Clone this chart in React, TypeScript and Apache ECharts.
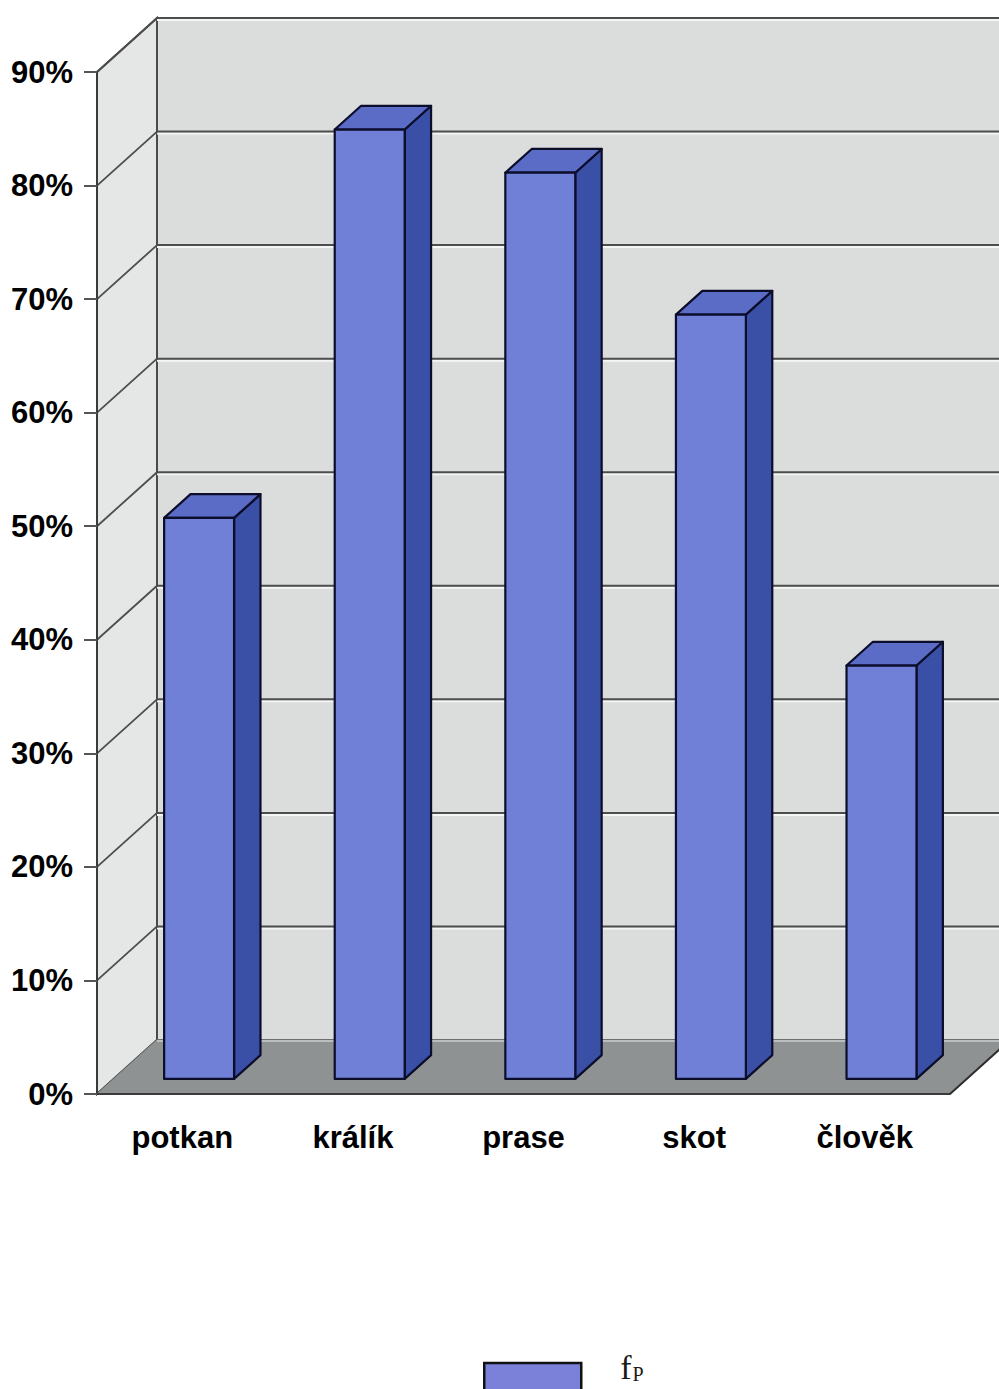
import React, { useEffect, useRef } from "react";
import * as echarts from "echarts";

// Categories and f_P shares (percent)
const categories = ["potkan", "králík", "prase", "skot", "člověk"];
const fpValues = [49.4, 83.6, 79.8, 67.3, 36.4];
const seriesName = "fP";

// Value axis range
const yMin = 0;
const yMax = 90;
const yStep = 10;
const gridLevels = [0, 10, 20, 30, 40, 50, 60, 70, 80, 90];

// Oblique depth of the box (pixels)
const DX = 60;
const DY = -54;
const BAR_FRONT = 0.28;
const BAR_BACK = 0.72;
const BAR_WIDTH = 0.41;

const FONT = "'Liberation Sans', Arial, sans-serif";
const SERIF = "'Liberation Serif', 'Times New Roman', serif";

export default function App() {
  const ref = useRef<HTMLDivElement>(null);

  useEffect(() => {
    if (!ref.current) return;
    const chart = echarts.init(ref.current, null, { renderer: "svg" });

    const wallsRender = (params: any, api: any) => {
      const cw = api.size([1, 0])[0];
      const left = api.coord([0, 0])[0] - cw / 2;
      const right = api.coord([categories.length - 1, 0])[0] + cw / 2;
      const y0 = api.coord([0, yMin])[1];
      const yTop = api.coord([0, yMax])[1];
      const children: any[] = [];
      // back wall
      children.push({
        type: "polygon",
        shape: { points: [[left + DX, yTop + DY], [right + DX + 40, yTop + DY], [right + DX + 40, y0 + DY], [left + DX, y0 + DY]] },
        style: { fill: "#dbdddd", stroke: "#4a4a4a", lineWidth: 2 },
      });
      // side wall
      children.push({
        type: "polygon",
        shape: { points: [[left, yTop], [left + DX, yTop + DY], [left + DX, y0 + DY], [left, y0]] },
        style: { fill: "#e5e7e7", stroke: "#4a4a4a", lineWidth: 2 },
      });
      // gridlines on both walls
      gridLevels.forEach((lv) => {
        const y = api.coord([0, lv])[1];
        children.push({
          type: "line",
          shape: { x1: left + DX, y1: y + DY + 2, x2: right + DX + 40, y2: y + DY + 2 },
          style: { stroke: "#f4f5f5", lineWidth: 2 },
        });
        children.push({
          type: "line",
          shape: { x1: left + DX, y1: y + DY, x2: right + DX + 40, y2: y + DY },
          style: { stroke: "#4d4d4d", lineWidth: 2 },
        });
        children.push({
          type: "line",
          shape: { x1: left, y1: y, x2: left + DX, y2: y + DY },
          style: { stroke: "#4d4d4d", lineWidth: 1.8 },
        });
      });
      // floor
      children.push({
        type: "polygon",
        shape: { points: [[left, y0], [left + DX, y0 + DY], [right + DX, y0 + DY], [right, y0]] },
        style: { fill: "#8f9292", stroke: "#8f9292", lineWidth: 1 },
      });
      children.push({
        type: "line",
        shape: { x1: right, y1: y0, x2: right + DX, y2: y0 + DY },
        style: { stroke: "#2e2e2e", lineWidth: 2 },
      });
      children.push({
        type: "line",
        shape: { x1: left + DX, y1: y0 + DY + 1, x2: right + DX, y2: y0 + DY + 1 },
        style: { stroke: "#c9cccc", lineWidth: 1.5 },
      });
      return { type: "group", children };
    };

    const barRender = (params: any, api: any) => {
      const i = api.value(0);
      const v = api.value(1);
      const base = api.coord([i, yMin]);
      const top = api.coord([i, v]);
      const cw = api.size([1, 0])[0];
      const bw = cw * BAR_WIDTH;
      const fx = DX * BAR_FRONT;
      const fy = DY * BAR_FRONT;
      const ddx = DX * (BAR_BACK - BAR_FRONT);
      const ddy = DY * (BAR_BACK - BAR_FRONT);
      const x0 = base[0] - bw / 2 + fx;
      const x1 = x0 + bw;
      const yb = base[1] + fy;
      const yt = top[1] + fy;
      const edge = { stroke: "#0b0d2a", lineWidth: 2.2, lineJoin: "round" };
      return {
        type: "group",
        children: [
          {
            type: "polygon",
            shape: { points: [[x1, yt], [x1 + ddx, yt + ddy], [x1 + ddx, yb + ddy], [x1, yb]] },
            style: { fill: "#3a4fa6", ...edge },
          },
          {
            type: "polygon",
            shape: { points: [[x0, yt], [x0 + ddx, yt + ddy], [x1 + ddx, yt + ddy], [x1, yt]] },
            style: { fill: "#5a6cc6", ...edge },
          },
          {
            type: "polygon",
            shape: { points: [[x0, yt], [x1, yt], [x1, yb], [x0, yb]] },
            style: { fill: "#6f80d6", ...edge },
          },
        ],
      };
    };

    chart.setOption({
      animation: false,
      backgroundColor: "#ffffff",
      grid: { left: 97, right: 49, top: 72, bottom: 295, containLabel: false },
      legend: {
        data: [seriesName],
        left: 483,
        top: 1350,
        padding: 0,
        icon: "rect",
        itemWidth: 97,
        itemHeight: 30,
        itemStyle: { color: "#7b80d8", borderColor: "#111", borderWidth: 2.5 },
        formatter: () => "{f|f}{p|P}",
        textStyle: {
          padding: [0, 0, 22, 34],
          rich: {
            f: { fontFamily: SERIF, fontSize: 34, lineHeight: 36, color: "#1a1a1a" },
            p: { fontFamily: SERIF, fontSize: 20, lineHeight: 36, color: "#1a1a1a", padding: [14, 0, 0, 1] },
          },
        },
      },
      xAxis: {
        type: "category",
        data: categories,
        boundaryGap: true,
        z: 5,
        axisLine: { lineStyle: { color: "#3a3a3a", width: 2 } },
        axisTick: { length: 12, lineStyle: { color: "#555", width: 2 } },
        axisLabel: { fontFamily: FONT, fontWeight: "bold", fontSize: 31, color: "#000", margin: 28 },
      },
      yAxis: {
        type: "value",
        min: yMin,
        max: yMax,
        interval: yStep,
        z: 5,
        axisLine: { show: true, lineStyle: { color: "#3a3a3a", width: 2 } },
        axisTick: { show: true, length: 13, lineStyle: { color: "#555", width: 2 } },
        splitLine: { show: false },
        axisLabel: {
          formatter: "{value}%",
          fontFamily: FONT,
          fontWeight: "bold",
          fontSize: 31,
          color: "#000",
          margin: 24,
        },
      },
      series: [
        {
          type: "custom",
          name: "walls",
          z: 1,
          silent: true,
          renderItem: wallsRender,
          data: [[0, 0]],
        },
        {
          type: "custom",
          name: seriesName,
          z: 3,
          itemStyle: { color: "#7b80d8" },
          renderItem: barRender,
          data: fpValues.map((v, i) => [i, v]),
        },
      ],
    });

    return () => chart.dispose();
  }, []);

  return (
    <div
      ref={ref}
      style={{ position: "absolute", left: 0, top: 0, width: 999, height: 1389, background: "#fff" }}
    />
  );
}
